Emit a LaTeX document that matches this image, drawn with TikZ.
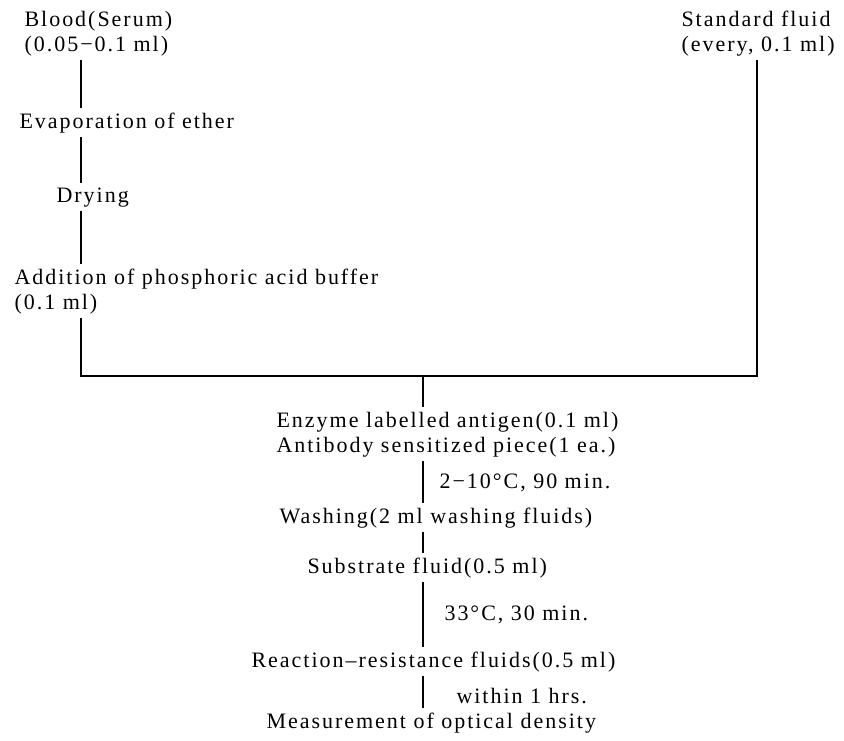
\documentclass[tikz,border=0pt]{standalone}
\usepackage{fontspec}
\setmainfont{Liberation Serif}[LetterSpace=9]

\begin{document}
\begin{tikzpicture}[x=1pt, y=-1pt, line width=1.1pt,
    main/.style = {anchor=base west, align=left, inner sep=4pt, font=\fontsize{22}{25}\selectfont}]
            \useasboundingbox (0,0) rectangle (844,740);
            % left branch
            \node[main] (1) at (20,51) {Blood(Serum)\\(0.05−0.1 ml)};
            \node[main] (2) at (15,128) {Evaporation of ether};
            \node[main] (3) at (52,202) {Drying};
            \node[main] (4) at (10,309) {Addition of phosphoric acid buffer\\(0.1 ml)};
            % right branch
            \node[main] (5) at (677,51) {Standard fluid\\(every, 0.1 ml)};
            % main line
            \node[main] (6) at (272,452) {Enzyme labelled antigen(0.1 ml)\\Antibody sensitized piece(1 ea.)};
            \node[main] (7) at (275,523) {Washing(2 ml washing fluids)};
            \node[main] (8) at (303,573) {Substrate fluid(0.5 ml)};
            \node[main] (9) at (247,667) {Reaction–resistance fluids(0.5 ml)};
            \node[main] (10) at (262,728) {Measurement of optical density};
            % conditions
            \node[main] (c1) at (435,488) {2−10°C, 90 min.};
            \node[main] (c2) at (440,620) {33°C, 30 min.};
            \node[main] (c3) at (452,703) {within 1 hrs.};
            \coordinate (L) at (81,0);
            \coordinate (R) at (757,0);
            \coordinate (J) at (423,376);
            \path[draw]
            (1.south -| L) edge (2.north -| L)
            (2.south -| L) edge (3.north -| L)
            (3.south -| L) edge (4.north -| L)
            (J) edge (6.north -| J)
            (6.south -| J) edge (7.north -| J)
            (7.south -| J) edge (8.north -| J)
            (8.south -| J) edge (9.north -| J)
            (9.south -| J) edge (10.north -| J);
            \draw (4.south -| L) |- (J) -| (5.south -| R);
        \end{tikzpicture}
\end{document}
